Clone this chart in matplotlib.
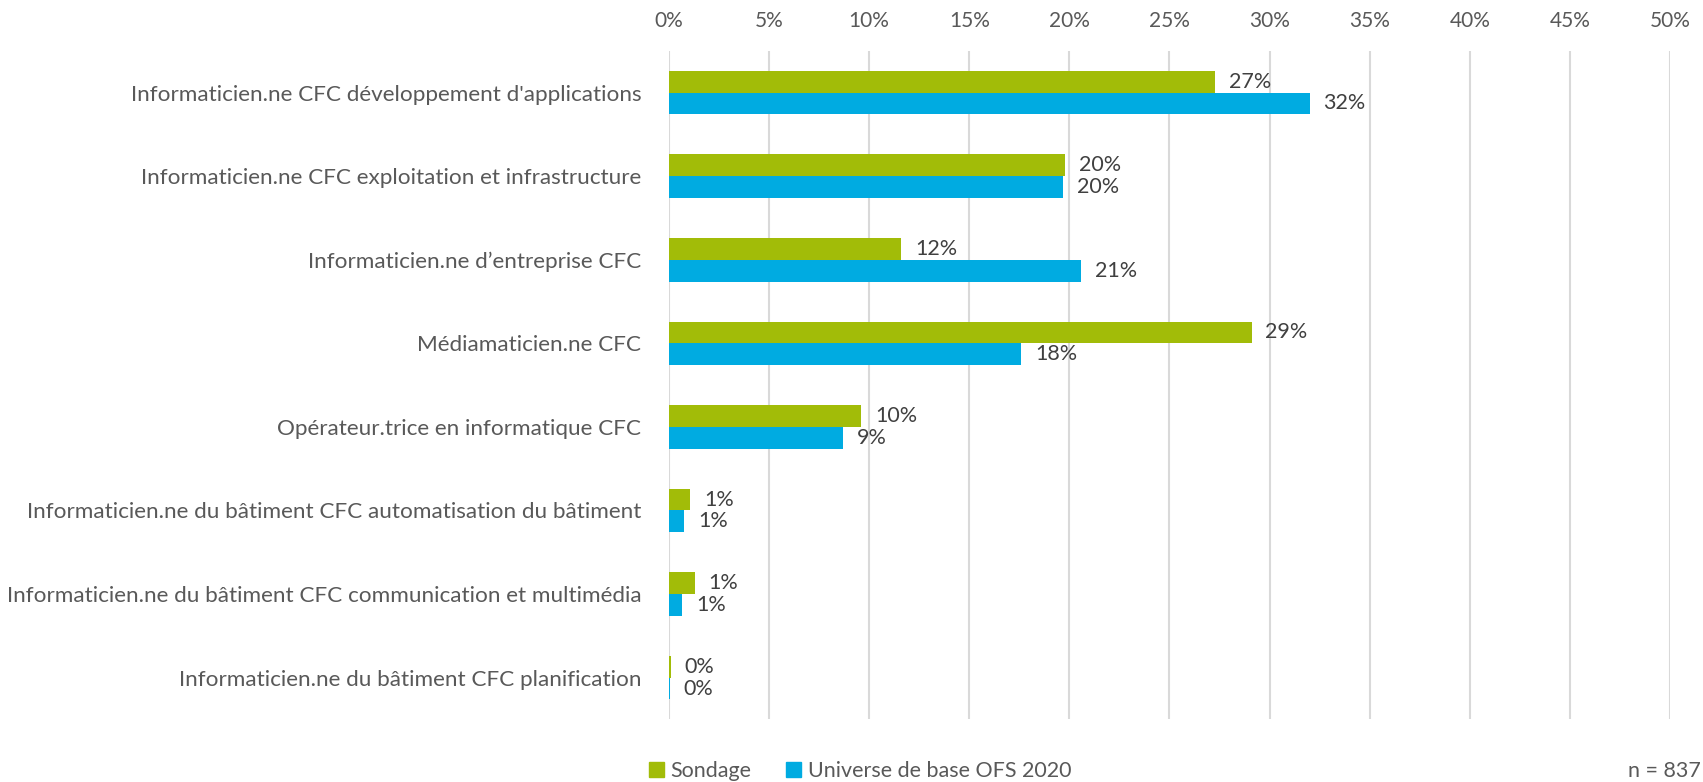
import numpy as np
import matplotlib.pyplot as plt
from matplotlib.patches import Patch

plt.rcParams['font.family'] = ['Lato', 'DejaVu Sans']

# Data
categories = ["Informaticien.ne CFC développement d'applications",
              "Informaticien.ne CFC exploitation et infrastructure",
              "Informaticien.ne d’entreprise CFC",
              "Médiamaticien.ne CFC",
              "Opérateur.trice en informatique CFC",
              "Informaticien.ne du bâtiment CFC automatisation du bâtiment",
              "Informaticien.ne du bâtiment CFC communication et multimédia",
              "Informaticien.ne du bâtiment CFC planification"]
sondage = [27.3, 19.8, 11.6, 29.1, 9.6, 1.05, 1.28, 0.1]
ofs = [32.0, 19.7, 20.6, 17.6, 8.7, 0.75, 0.65, 0.05]
series_names = ["Sondage", "Universe de base OFS 2020"]
xticks = np.arange(0, 55, 5)

green = '#a2bc08'
blue = '#00abe1'
gray = '#595959'

fig = plt.figure(figsize=(17.03, 7.82), dpi=100)
ax = fig.add_axes([0.3928, 0.080, 0.5878, 0.855])

y = np.arange(len(categories))
h = 0.26
b1 = ax.barh(y - h / 2, sondage, height=h, color=green, zorder=3)
b2 = ax.barh(y + h / 2, ofs, height=h, color=blue, zorder=3)

for bars, vals in [(b1, sondage), (b2, ofs)]:
    for rect, v in zip(bars, vals):
        ax.annotate(f"{v:.0f}%", (rect.get_width(), rect.get_y() + rect.get_height() / 2),
                    xytext=(10, 0), textcoords='offset points',
                    ha='left', va='center', fontsize=15.5, color='#404040')

ax.set_xlim(0, 50)
ax.set_ylim(len(categories) - 0.5, -0.5)
ax.set_xticks(xticks)
ax.set_xticklabels([f"{t}%" for t in xticks])
ax.xaxis.tick_top()
ax.set_yticks(y)
ax.set_yticklabels(categories)
ax.tick_params(axis='both', length=0, labelsize=15, labelcolor=gray)
ax.tick_params(axis='y', pad=20, labelsize=16.2)
ax.tick_params(axis='x', pad=14)
ax.grid(axis='x', color='#d9d9d9', linewidth=1.5, zorder=0)
for s in ax.spines.values():
    s.set_visible(False)

handles = [Patch(color=green), Patch(color=blue)]
fig.legend(handles, series_names, loc='center', bbox_to_anchor=(0.505, 0.014), ncol=2,
           frameon=False, fontsize=15.5, labelcolor=gray, handlelength=0.7, handleheight=0.7,
           handletextpad=0.3, columnspacing=1.6)
fig.text(0.999, 0.014, "n = 837", ha='right', va='center', fontsize=15.5, color=gray)

fig.savefig('out.png', dpi=100)
